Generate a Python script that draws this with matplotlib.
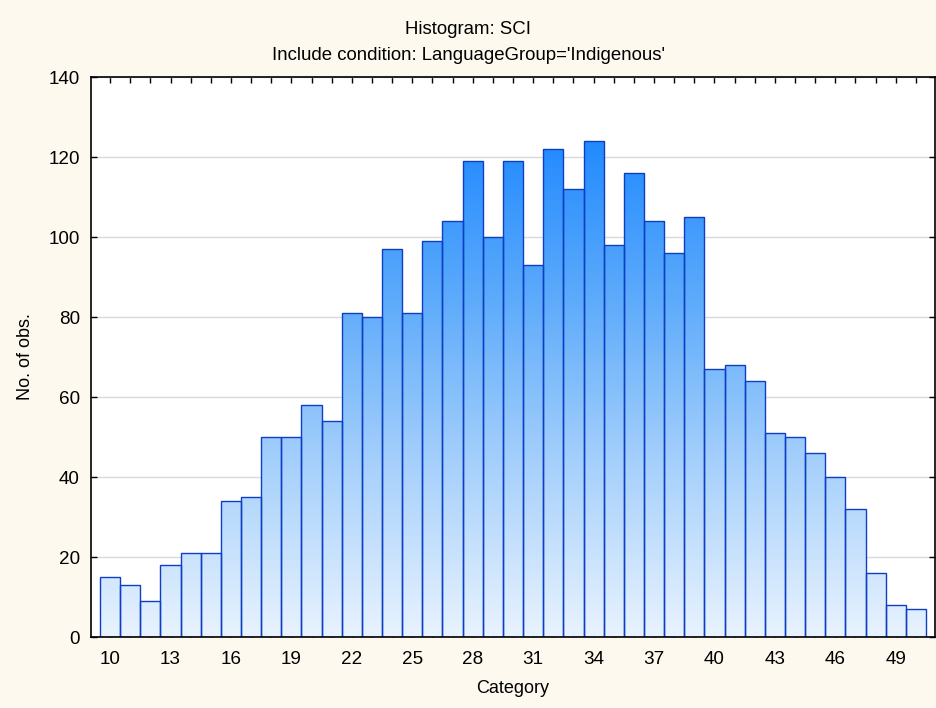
import matplotlib
matplotlib.use("Agg")
import matplotlib.pyplot as plt
import numpy as np
from matplotlib.colors import LinearSegmentedColormap
from matplotlib.ticker import MultipleLocator

# Данные гистограммы
categories = [10, 11, 12, 13, 14, 15, 16, 17, 18, 19, 20, 21, 22, 23, 24, 25, 26, 27, 28, 29,
              30, 31, 32, 33, 34, 35, 36, 37, 38, 39, 40, 41, 42, 43, 44, 45, 46, 47, 48, 49, 50]
counts = [15, 13, 9, 18, 21, 21, 34, 35, 50, 50, 58, 54, 81, 80, 97, 81, 99, 104, 119, 100,
          119, 93, 122, 112, 124, 98, 116, 104, 96, 105, 67, 68, 64, 51, 50, 46, 40, 32, 16, 8, 7]
x_ticks = [10, 13, 16, 19, 22, 25, 28, 31, 34, 37, 40, 43, 46, 49]
y_ticks = [0, 20, 40, 60, 80, 100, 120, 140]

plt.rcParams["font.family"] = ["Liberation Sans", "DejaVu Sans"]

fig = plt.figure(figsize=(9.36, 7.08), dpi=100, facecolor="#fdf9ee")
ax = fig.add_axes([91 / 936, 71 / 708, 844 / 936, 560 / 708])
ax.set_facecolor("white")

ymax = 140
cmap = LinearSegmentedColormap.from_list(
    "bars", ["#e8f3fe", "#a6d0fb", "#5aa9fb", "#1a86ff"])

# градиентная заливка каждого столбца
for x, h in zip(categories, counts):
    grad = np.linspace(0, h, 200).reshape(-1, 1)
    ax.imshow(grad, extent=[x - 0.5, x + 0.5, 0, h], origin="lower",
              aspect="auto", cmap=cmap, vmin=0, vmax=130,
              interpolation="bilinear", zorder=2)

ax.bar(categories, counts, width=1.0, facecolor="none",
       edgecolor="#0c3fc4", linewidth=1.0, zorder=3)

ax.set_xlim(9.05, 50.95)
ax.set_ylim(0, ymax)
ax.set_xticks(x_ticks)
ax.xaxis.set_minor_locator(MultipleLocator(1))
ax.set_yticks(y_ticks)
ax.grid(axis="y", color="#d9d9d9", linewidth=1.0, zorder=0)
ax.set_axisbelow(True)

ax.tick_params(which="both", direction="in", top=True, right=True,
               length=4, width=1, labelsize=13.6, color="black")
ax.tick_params(axis="x", which="major", pad=10)
ax.tick_params(axis="y", which="major", pad=8)
for s in ax.spines.values():
    s.set_linewidth(1.2)
    s.set_zorder(5)

ax.set_xlabel("Category", fontsize=13, labelpad=9)
ax.set_ylabel("No. of obs.", fontsize=13, labelpad=10)
fig.text(0.5, 1 - 30 / 708, "Histogram: SCI", ha="center", va="center", fontsize=13.4)
fig.text(0.5, 1 - 55 / 708, "Include condition: LanguageGroup='Indigenous'",
         ha="center", va="center", fontsize=13.4)

fig.savefig("out.png", dpi=100, facecolor=fig.get_facecolor())
